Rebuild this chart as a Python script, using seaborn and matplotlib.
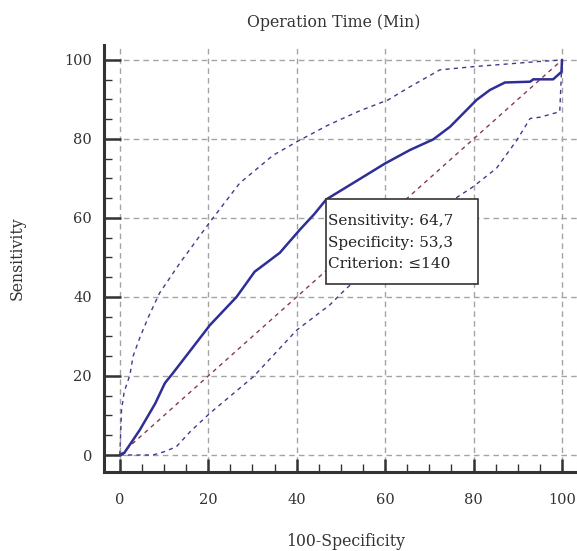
import matplotlib
matplotlib.use("Agg")
import matplotlib.pyplot as plt
from matplotlib.patches import Rectangle
from matplotlib.ticker import MultipleLocator
import seaborn as sns

# ROC curve (100-specificity vs sensitivity)
roc_x = [0, 1, 4.5, 8, 10.2, 12, 16, 20.4, 26.4, 30.5, 33.6, 36.2, 40.7, 44, 46.7,
         53, 60, 65.6, 70.9, 74.7, 80.7, 83.7, 87.1, 92.8, 93.5, 98, 99.9, 100]
roc_y = [0, 0.5, 6.3, 13, 18.2, 20.7, 26.5, 32.9, 40, 46.4, 49.0, 51.2, 57, 61, 64.7,
         69, 73.8, 77.2, 79.9, 83.1, 89.9, 92.4, 94.3, 94.5, 95.1, 95.1, 97, 100]

# 95% confidence bounds
upper_x = [0, 0.4, 1, 2.3, 3, 4.5, 6.5, 9, 13.6, 20.4, 27.1, 34.7, 40.7, 47.1, 54,
           60.7, 65.6, 72.4, 79.9, 94.6, 100]
upper_y = [0, 11.4, 16, 20.3, 25, 29.6, 35, 41, 48.6, 59, 68.8, 75.9, 79.7, 83.5, 87,
           89.9, 93.2, 97.5, 98.3, 99.6, 100]
lower_x = [0, 7.5, 10, 12.8, 16, 20.4, 30.2, 40, 47.5, 50.9, 60, 68, 75.4, 79.9, 85.2,
           89.8, 92.8, 95, 99.5, 100]
lower_y = [0, 0, 0.8, 2.1, 6, 10.6, 19.8, 31.6, 38, 41.8, 51, 58.5, 64.6, 67.9, 72.6,
           79.7, 85.2, 85.5, 86.9, 100]

# reference diagonal
diag = [0, 100]

# criterion point
sens = 64.7
spec = 53.3
criterion = "\u2264140"

sns.set_style("white")
plt.rcParams['font.family'] = ['DejaVu Serif']
plt.rcParams['text.color'] = '#333333'

fig = plt.figure(figsize=(5.77, 5.51), dpi=100)
ax = fig.add_axes([0.180, 0.1434, 0.820, 0.775])

grid_kw = dict(color='#a4a4a4', lw=1.0, linestyle=(0, (4, 3)), zorder=0)
for v in range(0, 101, 20):
    ax.axhline(v, **grid_kw)
    ax.axvline(v, **grid_kw)

sns.lineplot(x=diag, y=diag, ax=ax, color='#8a3a48', linewidth=1.0,
             linestyle=(0, (3, 3)), zorder=2)
sns.lineplot(x=upper_x, y=upper_y, ax=ax, sort=False, estimator=None,
             color='#3d3d8e', linewidth=1.0, linestyle=(0, (3, 3)), zorder=2)
sns.lineplot(x=lower_x, y=lower_y, ax=ax, sort=False, estimator=None,
             color='#3d3d8e', linewidth=1.0, linestyle=(0, (3, 3)), zorder=2)
sns.lineplot(x=roc_x, y=roc_y, ax=ax, sort=False, estimator=None,
             color='#2e2e96', linewidth=1.8, zorder=4)

# info box anchored at the criterion point
cx = 100 - spec
box_w, box_h = 34.2, 21.3
ax.add_patch(Rectangle((cx, sens - box_h), box_w, box_h, facecolor='white',
                       edgecolor='#333333', lw=1.2, zorder=5))
lines = [f"Sensitivity: {sens:.1f}".replace('.', ','),
         f"Specificity: {spec:.1f}".replace('.', ','),
         f"Criterion: {criterion}"]
for i, t in enumerate(lines):
    ax.text(cx + 0.4, sens - 6.6 - i * 5.35, t, fontsize=11, va='baseline',
            ha='left', color='#222222', zorder=6)

ax.set_xlim(-3.6, 103.4)
ax.set_ylim(-4.3, 103.8)

ax.xaxis.set_major_locator(MultipleLocator(20))
ax.yaxis.set_major_locator(MultipleLocator(20))
ax.xaxis.set_minor_locator(MultipleLocator(5))
ax.yaxis.set_minor_locator(MultipleLocator(5))

for s in ['top', 'right']:
    ax.spines[s].set_visible(False)
for s in ['left', 'bottom']:
    ax.spines[s].set_linewidth(2.2)
    ax.spines[s].set_color('#333333')

ax.tick_params(axis='both', which='both', direction='in', colors='#333333',
               labelcolor='#333333', labelsize=10.5, bottom=True, left=True,
               top=False, right=False)
ax.tick_params(axis='y', which='major', length=12, width=1.8, pad=8.5)
ax.tick_params(axis='x', which='major', length=9.5, width=1.8, pad=15)
ax.tick_params(axis='both', which='minor', length=6, width=1.0)

ax.set_title("Operation Time (Min)", fontsize=11.3, x=0.486, pad=13, color='#333333')
ax.set_xlabel("100-Specificity", fontsize=11.3, color='#333333')
ax.set_ylabel("Sensitivity", fontsize=11.3, color='#333333')
ax.xaxis.set_label_coords(0.51, -0.143)
ax.yaxis.set_label_coords(-0.165, 0.5)

fig.savefig("out.png", dpi=100)
